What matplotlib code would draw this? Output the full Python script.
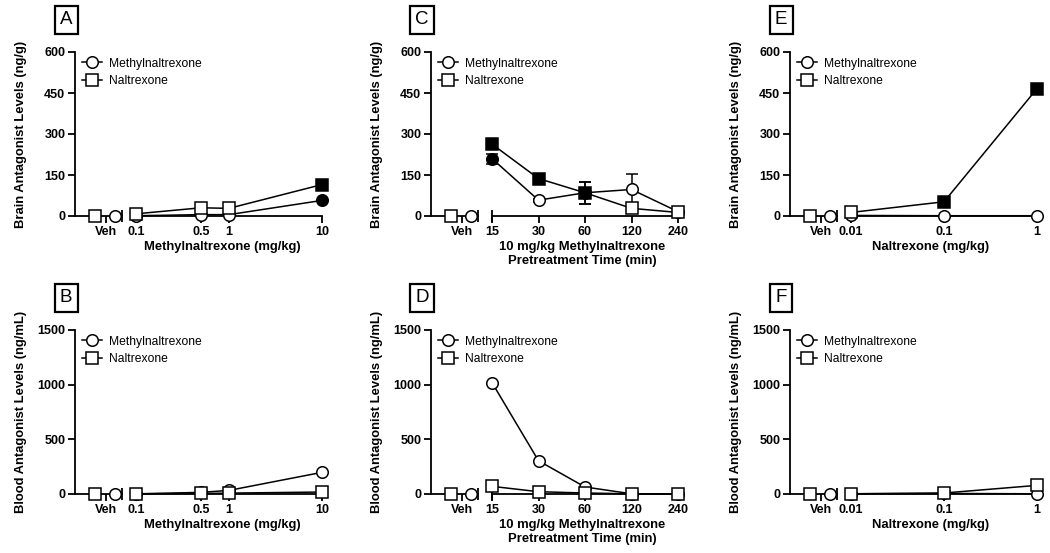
import numpy as np
import matplotlib
matplotlib.use("Agg")
import matplotlib.pyplot as plt
from matplotlib.ticker import NullLocator, FixedLocator, FixedFormatter

plt.rcParams["font.family"] = ["Liberation Sans", "DejaVu Sans"]

# -------------------------
# data
# -------------------------

series_names = ["Methylnaltrexone", "Naltrexone"]

# A / B : methylnaltrexone dose (mg/kg)
mntx_doses = [0.1, 0.5, 1, 10]
mntx_dose_labels = ["0.1", "0.5", "1", "10"]

brainA_mntx_veh = 0
brainA_mntx = [1, 5, 5, 57]
brainA_mntx_filled = [False, False, False, True]
brainA_ntx_veh = 0
brainA_ntx = [8, 30, 28, 115]
brainA_ntx_filled = [False, False, False, True]

bloodB_mntx_veh = 0
bloodB_mntx = [1, 15, 33, 198]
bloodB_ntx_veh = 0
bloodB_ntx = [2, 5, 8, 18]

# C / D : pretreatment time (min)
times = [15, 30, 60, 120, 240]
time_labels = ["15", "30", "60", "120", "240"]

brainC_mntx_veh = 0
brainC_mntx = [210, 58, 85, 97, 16]
brainC_mntx_err = [18, 5, 40, 58, 8]
brainC_mntx_filled = [True, False, True, False, False]
brainC_ntx_veh = 0
brainC_ntx = [263, 137, 85, 28, 13]
brainC_ntx_err = [10, 8, 40, 5, 5]
brainC_ntx_filled = [True, True, True, False, False]

bloodD_mntx_veh = 0
bloodD_mntx = [1019, 304, 64, 2, 1]
bloodD_ntx_veh = 0
bloodD_ntx = [70, 21, 9, 2, 1]

# E / F : naltrexone dose (mg/kg)
ntx_doses = [0.01, 0.1, 1]
ntx_dose_labels = ["0.01", "0.1", "1"]

brainE_mntx_veh = 0
brainE_mntx = [2, 1, 1]
brainE_ntx_veh = 0
brainE_ntx = [13, 52, 466]
brainE_ntx_filled = [False, True, True]

bloodF_mntx_veh = 0
bloodF_mntx = [2, 5, 2]
bloodF_ntx_veh = 0
bloodF_ntx = [2, 9, 79]
bloodF_ntx_filled = [False, False, False]

brain_ticks = [0, 150, 300, 450, 600]
blood_ticks = [0, 500, 1000, 1500]

# -------------------------
# style
# -------------------------

W, H = 1050, 553
FS = 8.7       # legend
FS_TICK = 9.0  # tick labels (bold)
FS_LAB = 9.4   # axis labels (bold)
LW = 1.1

fig = plt.figure(figsize=(W / 100, H / 100), dpi=100)

line_kw = dict(color="black", linewidth=LW, markeredgewidth=LW,
               markeredgecolor="black", clip_on=False)


def px_rect(x0, x1, ytop, ybot):
    return [x0 / W, (H - ybot) / H, (x1 - x0) / W, (ybot - ytop) / H]


def style_axis(ax):
    for s in ["top", "right"]:
        ax.spines[s].set_visible(False)
    for s in ["left", "bottom"]:
        ax.spines[s].set_linewidth(1.3)
    ax.tick_params(direction="out", length=5, width=1.3,
                   labelsize=FS_TICK, pad=2)
    for lab in ax.get_xticklabels() + ax.get_yticklabels():
        lab.set_fontweight("bold")


def draw_series(ax, x, y, marker, filled, err=None):
    ax.plot(x, y, color="black", linewidth=LW, clip_on=False, zorder=2)
    if err is not None:
        ax.errorbar(x, y, yerr=err, fmt="none", ecolor="black",
                    elinewidth=LW, capsize=4, capthick=LW, zorder=2,
                    clip_on=False)
    for xi, yi, fi in zip(x, y, filled):
        ax.plot([xi], [yi], linestyle="none", marker=marker,
                markersize=8.3 if marker == "o" else 8.0,
                markerfacecolor="black" if fi else "white",
                zorder=3, **line_kw)


def panel(letter, x0, ytop, ybot, ylim, yticks, ylabel,
          xs, xlabels, xbase, xlabel, xlabel_cx,
          mntx_veh, mntx, ntx_veh, ntx,
          mntx_filled=None, ntx_filled=None,
          mntx_err=None, ntx_err=None):

    n = len(xs)
    if mntx_filled is None:
        mntx_filled = [False] * n
    if ntx_filled is None:
        ntx_filled = [False] * n

    # =====================
    # vehicle segment
    # =====================
    axv = fig.add_axes(px_rect(x0, x0 + 47, ytop, ybot))
    axv.set_xlim(0, 1)
    axv.set_ylim(*ylim)
    axv.set_yticks(yticks)
    axv.set_xticks([0.66])
    axv.set_xticklabels(["Veh"])
    style_axis(axv)
    axv.plot([1], [0], marker="|", markersize=9, markeredgewidth=1.3,
             color="black", transform=axv.transAxes, clip_on=False)
    axv.plot([0.85], [mntx_veh], linestyle="none", marker="o",
             markersize=8.3, markerfacecolor="white", zorder=3, **line_kw)
    axv.plot([0.42], [ntx_veh], linestyle="none", marker="s",
             markersize=8.0, markerfacecolor="white", zorder=3, **line_kw)

    # legend handles
    h1, = axv.plot([], [], marker="o", markersize=8.3,
                   markerfacecolor="white", **line_kw)
    h2, = axv.plot([], [], marker="s", markersize=8.0,
                   markerfacecolor="white", **line_kw)
    axv.legend([h1, h2], series_names, loc="upper left",
               bbox_to_anchor=(0.05, 0.995), frameon=False, fontsize=FS,
               handlelength=1.6, handletextpad=0.6, labelspacing=0.45,
               borderaxespad=0)

    # =====================
    # dose / time segment
    # =====================
    axd = fig.add_axes(px_rect(x0 + 61, x0 + 247, ytop, ybot))
    axd.set_xscale("log", base=xbase)
    axd.set_xlim(xs[0], xs[-1])
    axd.set_ylim(*ylim)
    axd.xaxis.set_major_locator(FixedLocator(xs))
    axd.xaxis.set_major_formatter(FixedFormatter(xlabels))
    axd.xaxis.set_minor_locator(NullLocator())
    axd.yaxis.set_visible(False)
    style_axis(axd)
    axd.spines["left"].set_visible(False)
    axd.patch.set_alpha(0)
    axd.plot([0], [0], marker="|", markersize=9, markeredgewidth=1.3,
             color="black", transform=axd.transAxes, clip_on=False)

    draw_series(axd, xs, mntx, "o", mntx_filled, mntx_err)
    draw_series(axd, xs, ntx, "s", ntx_filled, ntx_err)

    # =====================
    # labels
    # =====================
    fig.text((x0 - 54) / W, 1 - (ytop + ybot) / 2 / H, ylabel,
             rotation=90, ha="center", va="center",
             fontsize=FS_LAB, fontweight="bold")
    fig.text(xlabel_cx / W, 1 - (ybot + 25) / H, xlabel,
             ha="center", va="top", fontsize=FS_LAB, fontweight="bold",
             linespacing=1.2)
    fig.text((x0 - 9) / W, 1 - (ytop - 32) / H, letter,
             ha="center", va="center", fontsize=13.5,
             bbox=dict(boxstyle="square,pad=0.28", facecolor="white",
                       edgecolor="black", linewidth=1.6))


brain_lab = "Brain Antagonist Levels (ng/g)"
blood_lab = "Blood Antagonist Levels (ng/mL)"
time_lab = "10 mg/kg Methylnaltrexone\nPretreatment Time (min)"

top = (52, 216)
bot = (330, 494)

panel("A", 75, *top, (0, 600), brain_ticks, brain_lab,
      mntx_doses, mntx_dose_labels, 10, "Methylnaltrexone (mg/kg)", 222,
      brainA_mntx_veh, brainA_mntx, brainA_ntx_veh, brainA_ntx,
      brainA_mntx_filled, brainA_ntx_filled)

panel("B", 75, *bot, (0, 1500), blood_ticks, blood_lab,
      mntx_doses, mntx_dose_labels, 10, "Methylnaltrexone (mg/kg)", 222,
      bloodB_mntx_veh, bloodB_mntx, bloodB_ntx_veh, bloodB_ntx)

panel("C", 431, *top, (0, 600), brain_ticks, brain_lab,
      times, time_labels, 2, time_lab, 582,
      brainC_mntx_veh, brainC_mntx, brainC_ntx_veh, brainC_ntx,
      brainC_mntx_filled, brainC_ntx_filled,
      brainC_mntx_err, brainC_ntx_err)

panel("D", 431, *bot, (0, 1500), blood_ticks, blood_lab,
      times, time_labels, 2, time_lab, 582,
      bloodD_mntx_veh, bloodD_mntx, bloodD_ntx_veh, bloodD_ntx)

panel("E", 790, *top, (0, 600), brain_ticks, brain_lab,
      ntx_doses, ntx_dose_labels, 10, "Naltrexone (mg/kg)", 931,
      brainE_mntx_veh, brainE_mntx, brainE_ntx_veh, brainE_ntx,
      None, brainE_ntx_filled)

panel("F", 790, *bot, (0, 1500), blood_ticks, blood_lab,
      ntx_doses, ntx_dose_labels, 10, "Naltrexone (mg/kg)", 931,
      bloodF_mntx_veh, bloodF_mntx, bloodF_ntx_veh, bloodF_ntx,
      None, bloodF_ntx_filled)

fig.savefig("out.png", dpi=100)
plt.close(fig)
